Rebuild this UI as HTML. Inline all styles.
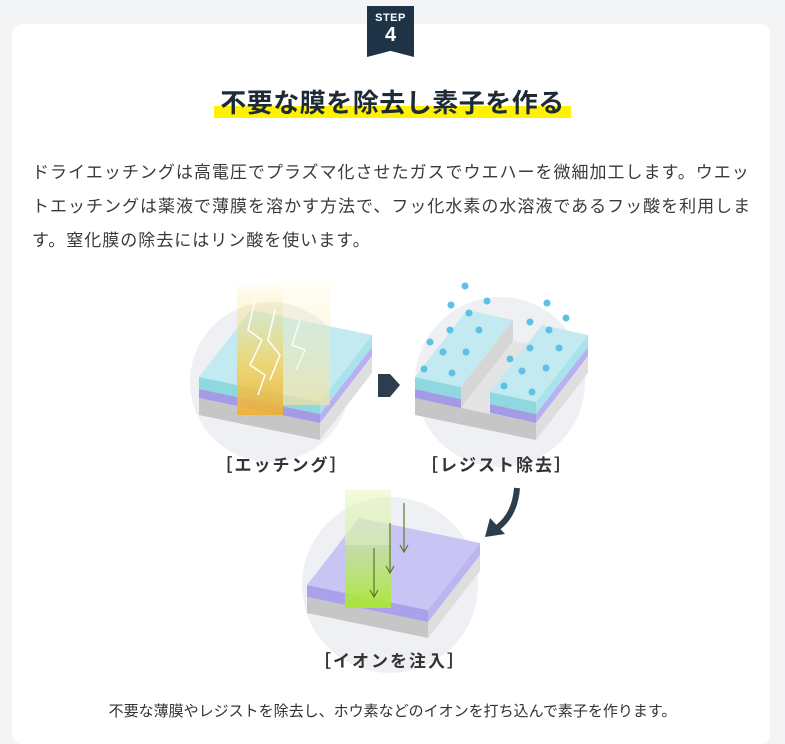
<!DOCTYPE html>
<html><head><meta charset="utf-8"><style>
body{margin:0;width:785px;height:726px;background:#f3f4f6;overflow:hidden;font-family:"Liberation Sans","Noto Sans CJK JP",sans-serif;color:#333;}
.card{position:absolute;left:12px;top:24px;width:758px;height:720px;background:#fff;border-radius:10px;}
.badge{position:absolute;left:367px;top:6px;width:47px;height:51px;background:#1e3446;clip-path:polygon(0 0,100% 0,100% 100%,50% 88%,0 100%);color:#fff;text-align:center;font-weight:bold;}
.badge .s{font-size:11px;margin-top:6px;line-height:12px;letter-spacing:.5px}
.badge .n{font-size:20px;line-height:22px;}
.title{position:absolute;left:0;width:785px;top:83px;text-align:center;font-size:26px;font-weight:bold;color:#1e2a35;}
.title span{background:linear-gradient(transparent 60%,#fff200 60%);padding:0 6px;letter-spacing:0.5px}
.p{position:absolute;left:32px;top:156px;font-size:17px;line-height:34px;letter-spacing:1px;white-space:nowrap;color:#3a3a3a}
.cap{position:absolute;left:0;width:785px;top:700px;text-align:center;font-size:15px;color:#333}
</style></head><body>
<div class="card"></div>
<div class="badge"><div class="s">STEP</div><div class="n">4</div></div>
<div class="title"><span>不要な膜を除去し素子を作る</span></div>
<div class="p">ドライエッチングは高電圧でプラズマ化させたガスでウエハーを微細加工します。ウエッ<br>トエッチングは薬液で薄膜を溶かす方法で、フッ化水素の水溶液であるフッ酸を利用しま<br>す。窒化膜の除去にはリン酸を使います。</div>
<svg style="position:absolute;left:0;top:0" width="785" height="726">
<defs>
<linearGradient id="y1" x1="0" y1="0" x2="0" y2="1"><stop offset="0" stop-color="#ffe680" stop-opacity="0.1"/><stop offset="0.6" stop-color="#f8d050" stop-opacity="0.75"/><stop offset="1" stop-color="#f0b030" stop-opacity="0.9"/></linearGradient>
<linearGradient id="y2" x1="0" y1="0" x2="0" y2="1"><stop offset="0" stop-color="#fff3b0" stop-opacity="0.1"/><stop offset="1" stop-color="#f5e0a0" stop-opacity="0.7"/></linearGradient>
<linearGradient id="g1" x1="0" y1="0" x2="0" y2="1"><stop offset="0" stop-color="#d8f3a0" stop-opacity="0.2"/><stop offset="1" stop-color="#a8e830" stop-opacity="0.95"/></linearGradient>
</defs>
<circle cx="270" cy="382" r="80" fill="#eef0f3"/>
<circle cx="500" cy="382" r="85" fill="#eef0f3"/>
<circle cx="390" cy="585" r="88" fill="#eef0f3"/>
<polygon points="199,398 320,423 320,440 199,415" fill="#c6c6c6"/>
<polygon points="320,423 372,356 372,373 320,440" fill="#dedede"/>
<polygon points="199,389 320,414 320,423 199,398" fill="#a49ae6"/>
<polygon points="320,414 372,347 372,356 320,423" fill="#b8b0f0"/>
<polygon points="199,377 320,402 320,414 199,389" fill="#8fd8e0"/>
<polygon points="320,402 372,335 372,347 320,414" fill="#a8e2ea"/>
<polygon points="199,377 320,402 372,335 251,310" fill="#c2eaf0"/>
<rect x="283" y="280" width="47" height="125" fill="url(#y2)"/>
<rect x="237" y="285" width="46" height="130" fill="url(#y1)"/>
<polyline points="255,300 248,330 262,340 250,365 265,375 258,395" fill="none" stroke="#fff" stroke-width="1.5"/>
<polyline points="275,310 268,340 280,355 270,380" fill="none" stroke="#fff" stroke-width="1.5"/>
<polyline points="300,320 292,345 305,350 296,370" fill="none" stroke="#fff" stroke-width="1.5" opacity=".8"/>
<polygon points="378,374 390,374 400,385 390,397 378,397" fill="#2c3e4e"/>
<polygon points="415,398 536,423 536,440 415,415" fill="#c6c6c6"/>
<polygon points="536,423 588,356 588,373 536,440" fill="#dedede"/>
<polygon points="461,408 490,414 542,346 513,341" fill="#e4e4e4"/>
<polygon points="461,387 513,320 513,341 461,408" fill="#d6d6d6"/>
<polygon points="415,389 461,399 461,408 415,398" fill="#a49ae6"/>
<polygon points="415,377 461,387 461,399 415,389" fill="#8fd8e0"/>
<polygon points="415,377 461,387 513,320 467,310" fill="#c2eaf0"/>
<polygon points="490,404 536,414 536,423 490,413" fill="#a49ae6"/>
<polygon points="536,414 588,347 588,356 536,423" fill="#b8b0f0"/>
<polygon points="490,392 536,402 536,414 490,404" fill="#8fd8e0"/>
<polygon points="536,402 588,335 588,347 536,414" fill="#a8e2ea"/>
<polygon points="490,392 536,402 588,335 542,325" fill="#c2eaf0"/>
<g fill="#5fc0e6">
<circle cx="465" cy="286" r="3.5"/><circle cx="451" cy="305" r="3.5"/><circle cx="487" cy="301" r="3.5"/><circle cx="547" cy="303" r="3.5"/><circle cx="566" cy="318" r="3.5"/>
<circle cx="469" cy="313" r="3.5"/><circle cx="450" cy="330" r="3.5"/><circle cx="479" cy="330" r="3.5"/><circle cx="530" cy="322" r="3.5"/><circle cx="549" cy="330" r="3.5"/>
<circle cx="430" cy="342" r="3.5"/><circle cx="443" cy="352" r="3.5"/><circle cx="466" cy="352" r="3.5"/><circle cx="510" cy="359" r="3.5"/><circle cx="530" cy="348" r="3.5"/><circle cx="559" cy="348" r="3.5"/>
<circle cx="424" cy="369" r="3.5"/><circle cx="452" cy="373" r="3.5"/><circle cx="522" cy="371" r="3.5"/><circle cx="546" cy="368" r="3.5"/><circle cx="504" cy="386" r="3.5"/><circle cx="532" cy="392" r="3.5"/>
</g>
<path d="M517,488 Q515,515 497,528" fill="none" stroke="#2c3e4e" stroke-width="6"/>
<polygon points="485,537 490,518 505,534" fill="#2c3e4e"/>
<polygon points="307,597 428,622 428,638 307,613" fill="#c6c6c6"/>
<polygon points="428,622 480,555 480,571 428,638" fill="#dedede"/>
<polygon points="307,585 428,610 428,622 307,597" fill="#a9a2ea"/>
<polygon points="428,610 480,543 480,555 428,622" fill="#bbb6f0"/>
<polygon points="307,585 428,610 480,543 359,518" fill="#c8c5f4"/>
<rect x="345" y="490" width="46" height="118" fill="url(#g1)"/>
<rect x="345" y="490" width="46" height="55" fill="#e8f8c8" opacity=".4"/>
<g stroke="#5a7a2a" stroke-width="1.2" fill="none">
<line x1="404" y1="503" x2="404" y2="552"/><polyline points="400,545 404,552 408,545"/>
<line x1="390" y1="523" x2="390" y2="573"/><polyline points="386,566 390,573 394,566"/>
<line x1="374" y1="548" x2="374" y2="597"/><polyline points="370,590 374,597 378,590"/>
</g>
<g font-family="Liberation Sans,Noto Sans CJK JP,sans-serif" font-size="17" font-weight="bold" fill="#333" text-anchor="middle" letter-spacing="2">
<text x="282" y="471">［エッチング］</text>
<text x="497" y="471">［レジスト除去］</text>
<text x="390" y="667">［イオンを注入］</text>
</g>
</svg>
<div class="cap">不要な薄膜やレジストを除去し、ホウ素などのイオンを打ち込んで素子を作ります。</div>
</body></html>
